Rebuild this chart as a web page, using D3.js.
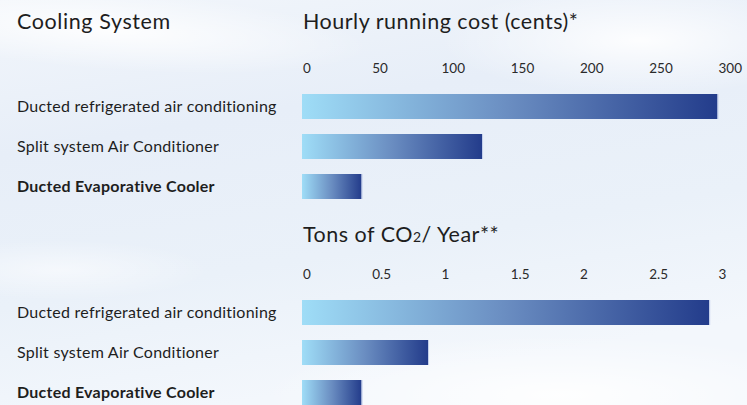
<!DOCTYPE html>
<html>
<head>
<meta charset="utf-8">
<style>
  html, body { margin: 0; padding: 0; }
  body { width: 747px; height: 405px; overflow: hidden; }
  svg { display: block; font-family: Lato, "Open Sans", sans-serif; }
</style>
</head>
<body>
<svg width="747" height="405"></svg>
<script src="https://cdnjs.cloudflare.com/ajax/libs/d3/7.8.5/d3.min.js"></script>
<script>
// data
var categories = ["Ducted refrigerated air conditioning", "Split system Air Conditioner", "Ducted Evaporative Cooler"];
var costValues = [300, 130, 43];
var costTicks = [0, 50, 100, 150, 200, 250, 300];
var co2Values = [2.94, 0.91, 0.43];
var co2Ticks = [0, 0.5, 1, 1.5, 2, 2.5, 3];

var svg = d3.select("svg"),
    width = +svg.attr("width"),
    height = +svg.attr("height");

var defs = svg.append("defs");

// background wash
var bg = defs.append("linearGradient").attr("id", "bg")
    .attr("x1", 0).attr("y1", 0).attr("x2", 0.3).attr("y2", 1);
bg.append("stop").attr("offset", 0).attr("stop-color", "#f2f6fb");
bg.append("stop").attr("offset", 0.35).attr("stop-color", "#e7eef8");
bg.append("stop").attr("offset", 0.7).attr("stop-color", "#eaf1f9");
bg.append("stop").attr("offset", 1).attr("stop-color", "#f3f7fc");

var glow = defs.append("radialGradient").attr("id", "glow");
glow.append("stop").attr("offset", 0).attr("stop-color", "#ffffff").attr("stop-opacity", 0.9);
glow.append("stop").attr("offset", 1).attr("stop-color", "#ffffff").attr("stop-opacity", 0);

// bar fill
var bar = defs.append("linearGradient").attr("id", "barFill");
bar.append("stop").attr("offset", 0).attr("stop-color", "#9fddf7");
bar.append("stop").attr("offset", 0.5).attr("stop-color", "#6a8dc1");
bar.append("stop").attr("offset", 1).attr("stop-color", "#233c8b");

svg.append("rect").attr("width", width).attr("height", height).attr("fill", "url(#bg)");
svg.append("ellipse").attr("cx", 110).attr("cy", 30).attr("rx", 260).attr("ry", 40)
    .attr("fill", "url(#glow)").attr("transform", "rotate(4 110 30)");
svg.append("ellipse").attr("cx", 640).attr("cy", 40).attr("rx", 200).attr("ry", 55)
    .attr("fill", "url(#glow)");
svg.append("ellipse").attr("cx", 560).attr("cy", 395).attr("rx", 300).attr("ry", 60)
    .attr("fill", "url(#glow)");
svg.append("ellipse").attr("cx", 60).attr("cy", 270).attr("rx", 150).attr("ry", 30)
    .attr("fill", "url(#glow)").attr("opacity", 0.6);

var textColor = "#1e1e1e";

svg.append("text")
    .attr("x", 17).attr("y", 29)
    .attr("font-size", 21.5)
    .attr("letter-spacing", 0.6)
    .attr("fill", textColor)
    .text("Cooling System");

function panel(top, title, values, ticks, max) {
  var x = d3.scaleLinear().domain([0, max]).range([302, 717.5]);
  var y = d3.scaleBand().domain(categories)
      .range([top + title.gap - 7.5, top + title.gap + 112.5])
      .paddingInner(0.375).paddingOuter(0.1875);

  var g = svg.append("g");

  var t = g.append("text")
      .attr("x", 303).attr("y", top)
      .attr("font-size", 21.5)
      .attr("letter-spacing", 0.5)
      .attr("fill", textColor);
  title.parts.forEach(function(p) {
    t.append("tspan").attr("font-size", p.small ? 14 : null).text(p.text);
  });

  g.selectAll(".tick")
    .data(ticks)
    .enter().append("text")
      .attr("x", function(d) { return x(d) + 1; })
      .attr("y", top + title.tickGap)
      .attr("font-size", 13.5)
      .attr("fill", "#2a2a2a")
      .text(function(d) { return d; });

  g.selectAll(".bar")
    .data(values)
    .enter().append("rect")
      .attr("x", x(0))
      .attr("y", function(d, i) { return y(categories[i]); })
      .attr("width", function(d) { return x(d) - x(0); })
      .attr("height", y.bandwidth())
      .attr("fill", "url(#barFill)");

  g.selectAll(".edge")
    .data(values)
    .enter().append("rect")
      .attr("x", function(d) { return x(d); })
      .attr("y", function(d, i) { return y(categories[i]); })
      .attr("width", 1)
      .attr("height", y.bandwidth())
      .attr("fill", "#c3cfec");

  g.selectAll(".label")
    .data(categories)
    .enter().append("text")
      .attr("x", 17)
      .attr("y", function(d) { return y(d) + y.bandwidth() / 2 + 5.5; })
      .attr("font-size", 16)
      .attr("letter-spacing", 0.25)
      .attr("font-weight", function(d, i) { return i === 2 ? "bold" : null; })
      .attr("fill", textColor)
      .text(function(d) { return d; });
}

panel(29, {parts: [{text: "Hourly running cost (cents)*"}], gap: 65, tickGap: 44}, costValues, costTicks, 300);
panel(242, {parts: [{text: "Tons of CO"}, {text: "2", small: true}, {text: "/ Year**"}], gap: 58, tickGap: 37}, co2Values, co2Ticks, 3);
</script>
</body>
</html>
